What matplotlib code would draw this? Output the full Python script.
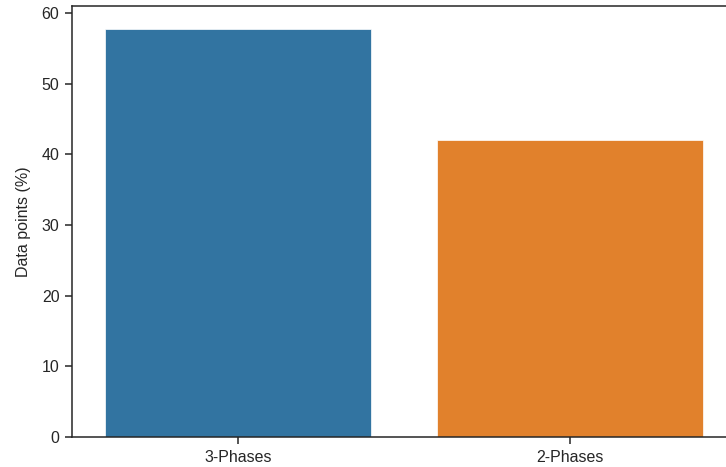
import matplotlib
matplotlib.use("Agg")
import matplotlib.pyplot as plt

categories = ["3-Phases", "2-Phases"]
values = [57.8, 42.0]
colors = ["#3274a1", "#e1812c"]
yticks = [0, 10, 20, 30, 40, 50, 60]

plt.rcParams['font.family'] = ['Liberation Sans', 'DejaVu Sans']
text_color = "#262626"

fig = plt.figure(figsize=(7.26, 4.67), dpi=100)
ax = fig.add_axes([72/726, (467-437)/467, (736-72)/726, (437-6)/467])
x = range(len(categories))
ax.bar(x, values, width=0.8, color=colors, edgecolor="white", linewidth=0.5)
ax.set_xlim(-0.5, len(categories) - 0.5)
ax.set_ylim(0, 61)
ax.set_yticks(yticks)
ax.set_xticks(list(x))
ax.set_xticklabels(categories)
ax.set_ylabel("Data points (%)", fontsize=11.5, color=text_color, labelpad=8)
ax.tick_params(axis='both', labelsize=11.5, colors=text_color, length=5, width=1.1, pad=4)
for s in ax.spines.values():
    s.set_color(text_color)
    s.set_linewidth(1.1)

fig.savefig("out.png", dpi=100)
